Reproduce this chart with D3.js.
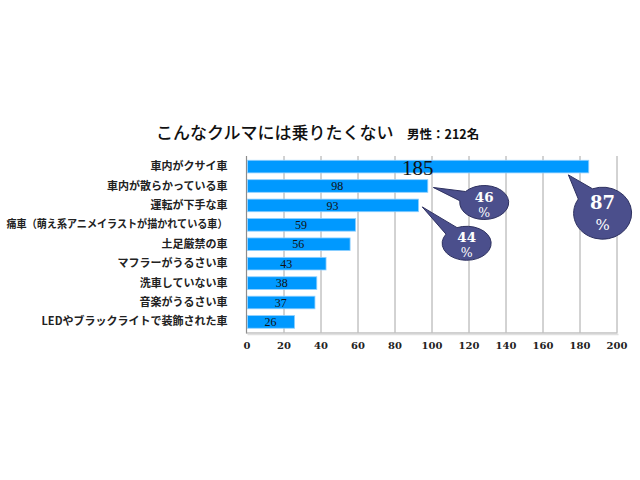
<!DOCTYPE html>
<html><head><meta charset="utf-8">
<script src="https://cdn.jsdelivr.net/npm/d3@7"></script>
<style>
html,body{margin:0;padding:0;background:#fff;}
</style></head>
<body>
<svg id="c" width="640" height="480"></svg>
<script>
const categories = ["車内がクサイ車","車内が散らかっている車","運転が下手な車","痛車（萌え系アニメイラストが描かれている車）","土足厳禁の車","マフラーがうるさい車","洗車していない車","音楽がうるさい車","LEDやブラックライトで装飾された車"];
const values = [185,98,93,59,56,43,38,37,26];
const xTicks = [0,20,40,60,80,100,120,140,160,180,200];
const title = "こんなクルマには乗りたくない";
const subtitle = "男性：212名";
// callouts: percent text, bar index, tip value, bubble center value, bubble center offset in bands
const calloutLabels = ["87","46","44"];
const calloutBars = [0,1,2];
const calloutTipValues = [174,101,95];
const calloutCenterValues = [192.5,128.5,119];
const calloutCenterBands = [2.4,0.85,1.95];

const svg = d3.select("#c");
const pL = 246.5, pR = 616.5, pT = 156, pB = 332.5;
const x = d3.scaleLinear().domain([0,200]).range([pL,pR]);
const y = d3.scaleBand().domain(categories).range([pT,pB]).paddingInner(0.35).paddingOuter(0.22);

// gridlines
svg.append("g").selectAll("line").data(xTicks.slice(1)).join("line")
  .attr("x1",d=>x(d)+0.5).attr("x2",d=>x(d)+0.5).attr("y1",pT).attr("y2",pB)
  .attr("stroke","#a6a6a6").attr("stroke-width",1);

// axis lines
svg.append("line").attr("x1",pL).attr("x2",pL).attr("y1",pT).attr("y2",pB+1)
  .attr("stroke","#8c8c8c").attr("stroke-width",1.2);
svg.append("line").attr("x1",pL).attr("x2",pR+1).attr("y1",pB+0.5).attr("y2",pB+0.5)
  .attr("stroke","#a0a0a0").attr("stroke-width",1);
svg.append("line").attr("x1",pL+1).attr("x2",pR+2).attr("y1",pB+2).attr("y2",pB+2)
  .attr("stroke","#e0e0e0").attr("stroke-width",1.5);

// x tick labels
const xa = d3.axisBottom(x).tickValues(xTicks).tickSize(0).tickPadding(0);
const gx = svg.append("g").attr("transform",`translate(0,${pB+7})`).call(xa);
gx.select(".domain").remove();
gx.selectAll("text").attr("font-family","'DejaVu Serif', serif").attr("font-size","10px")
  .attr("font-weight","bold").attr("fill","#222").attr("dy","0.9em");

// y labels
const ya = d3.axisLeft(y).tickSize(0).tickPadding(0);
const gy = svg.append("g").attr("transform",`translate(${pL-19},0)`).call(ya);
gy.select(".domain").remove();
gy.selectAll("text").attr("font-family","'Noto Sans CJK JP', sans-serif").attr("font-size","11px")
  .attr("font-weight","bold").attr("fill","#222")
  .attr("textLength",(d)=> d.startsWith("痛車") ? 221 : null)
  .attr("lengthAdjust","spacingAndGlyphs");

// bars
svg.append("g").selectAll("rect").data(values).join("rect")
  .attr("x",pL+1).attr("y",(d,i)=>y(categories[i]))
  .attr("width",d=>x(d)-pL-1).attr("height",y.bandwidth())
  .attr("fill","#0099ff").attr("stroke","#8fd0ff").attr("stroke-width",0.8);

// value labels
svg.append("g").selectAll("text").data(values).join("text")
  .attr("x",d=>(x(d)+pL)/2).attr("y",(d,i)=>y(categories[i])+y.bandwidth()/2)
  .attr("text-anchor","middle").attr("dy", (d,i)=> i===0 ? "0.42em" : "0.35em")
  .attr("font-family","'Liberation Serif', serif")
  .attr("font-size",(d,i)=> i===0 ? "21px" : "12px")
  .attr("fill","#111").text(d=>d);

// callouts
const step = y.step();
calloutLabels.forEach((lab,k)=>{
  const bi = calloutBars[k];
  const bandC = y(categories[bi]) + y.bandwidth()/2;
  const cx = x(calloutCenterValues[k]);
  const cy = bandC + calloutCenterBands[k]*step;
  const big = k===0;
  const rx = big ? 29 : 24.5, ry = big ? 26 : 17;
  const tx = x(calloutTipValues[k]);
  const ty = big ? bandC + y.bandwidth()/2 + 2 : bandC + 1.5;
  const th0 = Math.atan2((ty-cy)/ry,(tx-cx)/rx);
  const dl = big ? 0.32 : 0.3;
  const p = t=>[cx+rx*Math.cos(t), cy+ry*Math.sin(t)];
  const p1 = p(th0-dl), p2 = p(th0+dl);
  const path = `M${p1[0]},${p1[1]} L${tx},${ty} L${p2[0]},${p2[1]} A${rx},${ry} 0 1 1 ${p1[0]},${p1[1]} Z`;
  svg.append("path").attr("d",path).attr("fill","#4b4f8c").attr("stroke","#2e3160").attr("stroke-width",1);
  svg.append("text").attr("x",cx).attr("y",cy + (big?-4:-1)).attr("text-anchor","middle")
    .attr("font-family","'DejaVu Serif', serif").attr("font-weight","bold")
    .attr("font-size",(big?18:13.5)+"px").attr("fill","#fff").text(lab);
  svg.append("text").attr("x",cx).attr("y",cy + (big?17:14)).attr("text-anchor","middle")
    .attr("font-family","'DejaVu Serif', serif")
    .attr("font-size",(big?15:12.5)+"px").attr("fill","#fff").text("%");
});

// title
svg.append("text").attr("x",156).attr("y",139)
  .attr("font-family","'Noto Sans CJK JP', sans-serif").attr("font-size","17px").attr("font-weight","500")
  .attr("fill","#111").text(title);
svg.append("text").attr("x",407).attr("y",139)
  .attr("font-family","'Noto Sans CJK JP', sans-serif").attr("font-size","12.5px").attr("font-weight","bold")
  .attr("fill","#111").text(subtitle);
</script>
</body></html>
